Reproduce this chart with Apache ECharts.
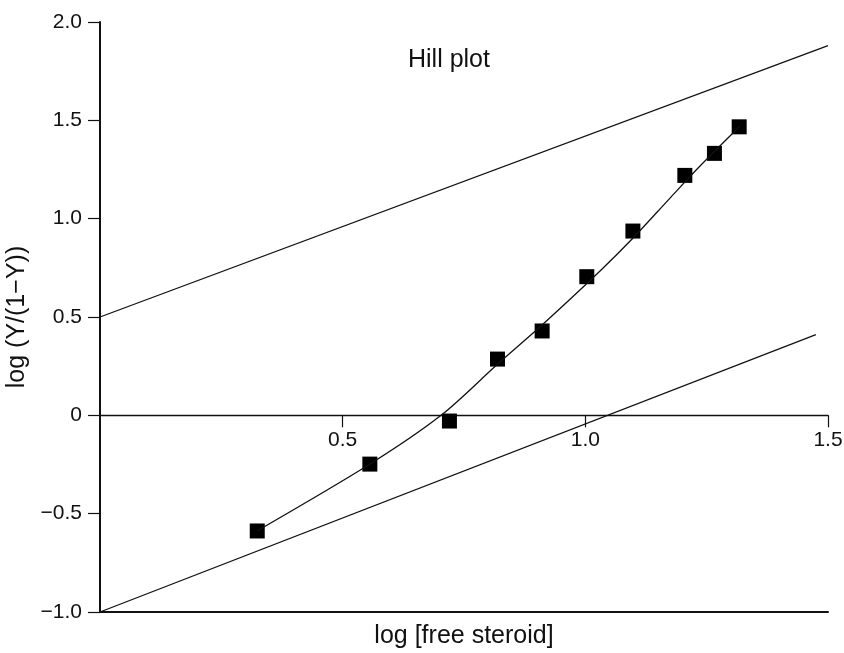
<!DOCTYPE html>
<html>
<head>
<meta charset="utf-8">
<script src="https://cdn.jsdelivr.net/npm/echarts@6/dist/echarts.min.js"></script>
<style>html,body{margin:0;padding:0;background:#fff}#c{width:844px;height:653px}</style>
</head>
<body>
<div id="c"></div>
<script>
// Data
const logFreeSteroid = [0.324, 0.556, 0.720, 0.819, 0.911, 1.003, 1.098, 1.205, 1.266, 1.317];
const logYRatio = [-0.588, -0.248, -0.029, 0.286, 0.429, 0.705, 0.937, 1.220, 1.332, 1.467];
// fitted curve (drawn through/near the points in the reference)
const fitX = [0.3235, 0.5564, 0.7027, 0.8195, 0.9108, 1.0303, 1.0983, 1.1745, 1.2363, 1.3173];
const fitY = [-0.588, -0.2476, 0.0, 0.2608, 0.4591, 0.7336, 0.9014, 1.1047, 1.2674, 1.4672];
const upperLine = [[0, 0.5], [1.5, 1.88]];
const lowerLine = [[0, -1.0], [1.475, 0.41]];
const xTicks = [0.5, 1.0, 1.5];
const yTicks = [-1.0, -0.5, 0, 0.5, 1.0, 1.5, 2.0];
const titleText = 'Hill plot';
const xName = 'log [free steroid]';
const yName = 'log (Y/(1\u2212Y))';

const FONT = '"Liberation Sans", Arial, Helvetica, sans-serif';
const points = logFreeSteroid.map((x, i) => [x, logYRatio[i]]);
const fitCurve = fitX.map((x, i) => [x, fitY[i]]);

const Y_MIN = -1, Y_MAX = 2;
const GRID = {left: 100, right: 16, top: 22, bottom: 41};
const H = 653;
const gridH = H - GRID.top - GRID.bottom;
// shift the labelled x axis up so it lies on y = 0
const zeroOffset = -gridH * (0 - Y_MIN) / (Y_MAX - Y_MIN);

function fmtY(v) {
  if (Math.abs(v) < 1e-9) return '0';
  return v.toFixed(1).replace('-', '\u2212');
}

const chart = echarts.init(document.getElementById('c'), null, {renderer: 'canvas'});
chart.setOption({
  backgroundColor: '#fff',
  animation: false,
  title: {
    text: titleText, left: 403, top: 43,
    textStyle: {fontFamily: FONT, fontSize: 25, fontWeight: 'normal', color: '#111'}
  },
  grid: {left: GRID.left, right: GRID.right, top: GRID.top, bottom: GRID.bottom, containLabel: false, outerBoundsMode: 'none'},
  xAxis: [{
    type: 'value', min: 0, max: 1.5, interval: 0.5, position: 'bottom', offset: zeroOffset,
    axisLine: {show: true, onZero: false, lineStyle: {color: '#111', width: 1.3}},
    axisTick: {show: true, length: 12, inside: false, customValues: xTicks, lineStyle: {color: '#111', width: 1.2}},
    axisLabel: {show: true, margin: 14, customValues: xTicks, formatter: v => v.toFixed(1), fontFamily: FONT, fontSize: 21, color: '#111'},
    splitLine: {show: false}
  }, {
    type: 'value', min: 0, max: 1.5, interval: 0.5, position: 'bottom',
    axisLine: {show: true, onZero: false, lineStyle: {color: '#111', width: 2}},
    axisTick: {show: false}, axisLabel: {show: false}, splitLine: {show: false},
    name: xName, nameLocation: 'middle', nameGap: 12,
    nameTextStyle: {fontFamily: FONT, fontSize: 25, color: '#111', verticalAlign: 'top'}
  }],
  yAxis: {
    type: 'value', min: Y_MIN, max: Y_MAX, interval: 0.5,
    axisLine: {show: true, onZero: false, lineStyle: {color: '#111', width: 2}},
    axisTick: {show: true, length: 12, customValues: yTicks, lineStyle: {color: '#111', width: 1.2}},
    axisLabel: {margin: 18, formatter: fmtY, customValues: yTicks, fontFamily: FONT, fontSize: 21, color: '#111'},
    splitLine: {show: false},
    name: yName, nameLocation: 'middle', nameGap: 68, nameRotate: 90,
    nameTextStyle: {fontFamily: FONT, fontSize: 25, color: '#111'}
  },
  series: [{
    type: 'line', data: upperLine, symbol: 'none', silent: true,
    lineStyle: {color: '#111', width: 1.3}
  }, {
    type: 'line', data: lowerLine, symbol: 'none', silent: true,
    lineStyle: {color: '#111', width: 1.3}
  }, {
    type: 'line', data: fitCurve, smooth: 0.3, symbol: 'none', silent: true,
    lineStyle: {color: '#111', width: 1.3}
  }, {
    type: 'scatter', data: points, symbol: 'rect', symbolSize: 15,
    itemStyle: {color: '#000', opacity: 1}
  }]
});
</script>
</body>
</html>
